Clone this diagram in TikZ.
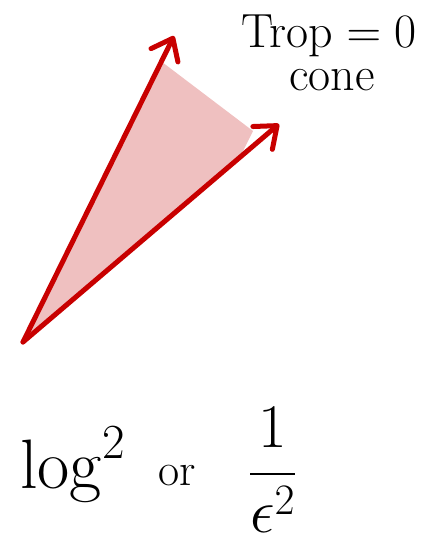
\RequirePackage{fix-cm}
\documentclass[tikz,border=0pt]{standalone}
\usepackage{amsmath}
\usetikzlibrary{arrows.meta}
\definecolor{conered}{RGB}{200,0,0}
\definecolor{conefill}{RGB}{239,192,192}
\begin{document}
\begin{tikzpicture}[x=1pt,y=-1pt,
  ray/.style={draw=conered,line width=5pt,line cap=round,line join=round,
    -{Straight Barb[length=19pt,width=30pt,line width=5pt,round]}},
  lbl/.style={inner sep=0pt,anchor=base}]
\useasboundingbox (0,0) rectangle (426,536);
\coordinate (O) at (23,342);
\coordinate (A) at (174,36);
\coordinate (B) at (279,124);
\coordinate (fa) at (162,62);
\coordinate (fb) at (253,131);
\coordinate (fc) at (240,157);
\fill[conefill] (O) -- (fa) -- (fb) -- (fc) -- cycle;
\draw[ray] (O) -- (A);
\draw[ray] (O) -- (B);
\node[lbl] (trop) at (329,47) {\fontsize{48}{54}\selectfont Trop${}={}$0};
\node[lbl] (cone) at (332,90) {\fontsize{48}{54}\selectfont cone};
\node[lbl,anchor=base west] (log) at (20,488) {\fontsize{70}{80}\selectfont $\log^2$};
\node[lbl] (or) at (177,485) {\fontsize{46}{52}\selectfont or};
\node[lbl] (frac) at (272.5,489.5) {\fontsize{62}{70}\selectfont $\genfrac{}{}{2.5pt}{0}{1}{\epsilon^2}$};
\end{tikzpicture}
\end{document}
